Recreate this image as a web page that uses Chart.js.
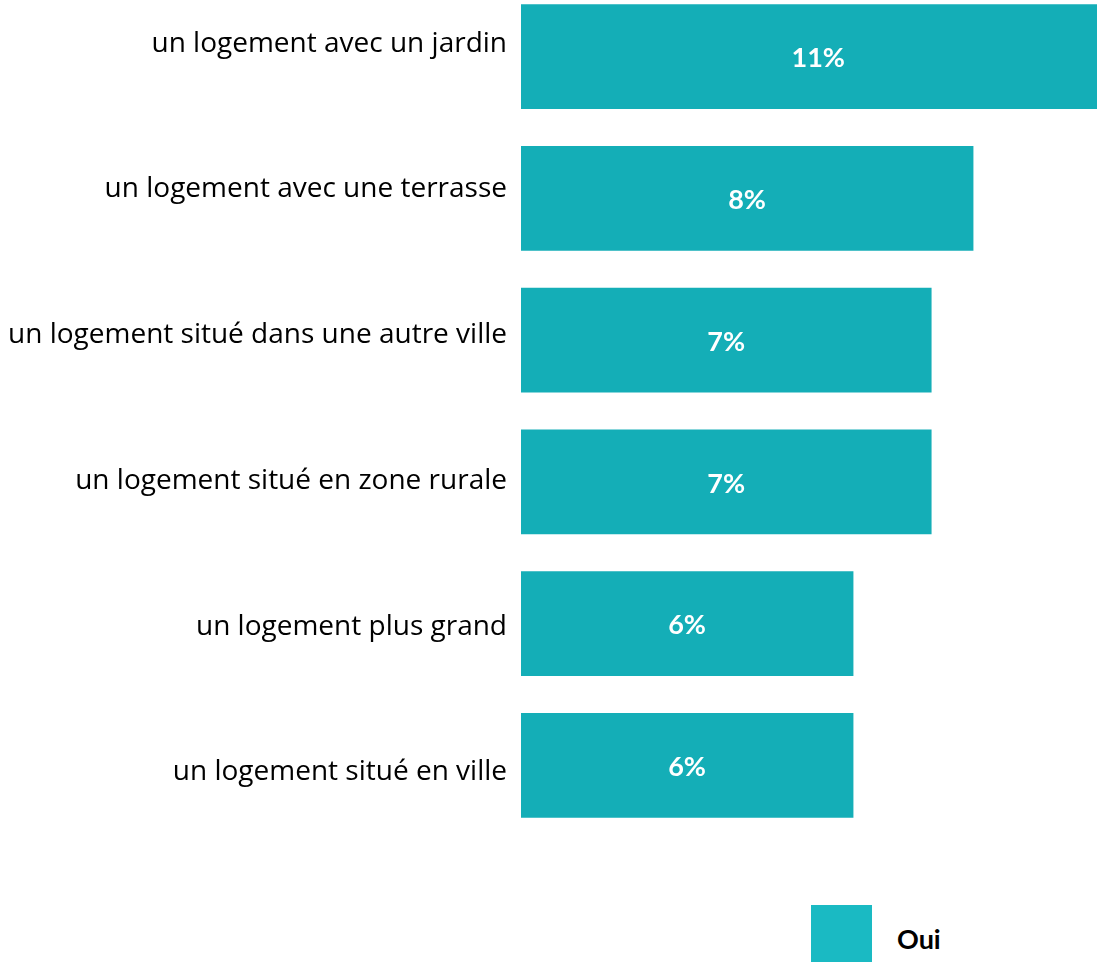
<!DOCTYPE html>
<html>
<head>
<meta charset="utf-8">
<script src="https://cdn.jsdelivr.net/npm/chart.js@4"></script>
<style>
  html, body { margin: 0; padding: 0; background: #fff; overflow: hidden; }
  body { width: 1097px; height: 962px; position: relative; }
  #wrap { position: absolute; left: 0; top: -60px; width: 1097px; height: 936px; }
  #legend { position: absolute; left: 811px; top: 905px; font-family: Lato, sans-serif; }
  #legend .box { position: absolute; left: 0; top: 0; width: 61px; height: 60px; background: #1ABAC3; }
  #legend .txt { position: absolute; left: 86px; top: 17px; font-size: 27px; font-weight: bold; color: #000; white-space: nowrap; }
</style>
</head>
<body>
<div id="wrap"><canvas id="chart"></canvas></div>
<div id="legend"><div class="box"></div><div class="txt">Oui</div></div>
<script>
// categories and values (percent)
var categories = [
    'un logement avec un jardin',
    'un logement avec une terrasse',
    'un logement situé dans une autre ville',
    'un logement situé en zone rurale',
    'un logement plus grand',
    'un logement situé en ville'
];
var ouiValues = [10.65, 8.1, 7.35, 7.35, 5.95, 5.95];
var seriesName = 'Oui';

var LABEL_FONT = '"Open Sans", sans-serif';
var VALUE_FONT = 'Lato, sans-serif';

// white bold % label in the middle of each bar
var barLabels = {
    id: 'barLabels',
    afterDatasetsDraw: function (chart) {
        var ctx = chart.ctx;
        var meta = chart.getDatasetMeta(0);
        ctx.save();
        ctx.fillStyle = '#fff';
        ctx.font = 'bold 27px ' + VALUE_FONT;
        ctx.textAlign = 'center';
        ctx.textBaseline = 'middle';
        meta.data.forEach(function (bar, i) {
            var x = (bar.base + bar.x) / 2;
            ctx.fillText(Math.round(ouiValues[i]) + '%', x, bar.y + 2);
        });
        ctx.restore();
    }
};

// bars sit on a hidden linear index axis, so the category labels can be
// spaced a little wider than the bars (as in the original slide)
new Chart(document.getElementById('chart').getContext('2d'), {
    type: 'bar',
    data: {
        labels: categories,
        datasets: [{
            label: seriesName,
            data: ouiValues.map(function (v, i) { return { x: v, y: i }; }),
            yAxisID: 'yb',
            backgroundColor: '#14AEB7',
            borderWidth: 0,
            barThickness: 104
        }]
    },
    options: {
        indexAxis: 'y',
        responsive: true,
        maintainAspectRatio: false,
        animation: false,
        layout: { padding: 0 },
        plugins: {
            legend: { display: false },
            tooltip: { enabled: false }
        },
        scales: {
            x: { display: false, min: 0, max: 10.32 },
            yb: { type: 'linear', display: false, reverse: true, bounds: 'data', offset: false, min: -0.606, max: 5.563 },
            y: {
                type: 'category',
                position: 'left',
                grid: { display: false, drawTicks: false },
                border: { display: false },
                ticks: { color: '#000', padding: 14, font: { family: LABEL_FONT, size: 28 } },
                afterFit: function (s) { s.width = 521; }
            }
        }
    },
    plugins: [barLabels]
});
</script>
</body>
</html>
